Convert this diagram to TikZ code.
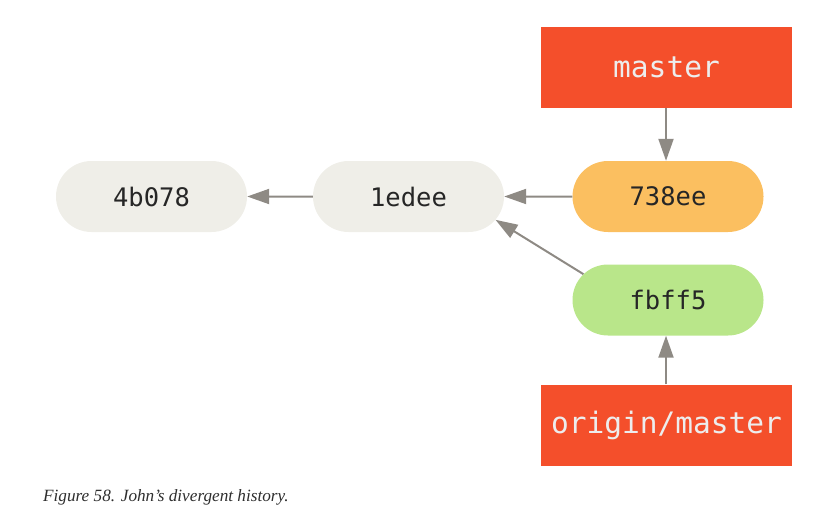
\documentclass[tikz,border=0pt]{standalone}
\usepackage{fontspec}
\setmainfont{Liberation Serif}
\setmonofont{DejaVu Sans Mono}
\usetikzlibrary{arrows.meta,shapes.misc}
\definecolor{commitgray}{HTML}{EFEEE8}
\definecolor{commitorange}{HTML}{FBBF60}
\definecolor{commitgreen}{HTML}{B9E68A}
\definecolor{branchred}{HTML}{F44F2B}
\definecolor{arrowgray}{HTML}{8E8A84}
\tikzset{
    commit/.style={rounded rectangle, fill=commitgray, minimum width=191pt, minimum height=71pt,
        inner sep=0pt, text=black!85, font=\ttfamily\fontsize{25.5}{30}\selectfont},
    branch/.style={rectangle, fill=branchred, minimum width=251pt, minimum height=81pt,
        inner sep=0pt, text=white!93!black, font=\ttfamily\fontsize{29.5}{34}\selectfont},
    parent/.style={draw=arrowgray, line width=2pt, -{Triangle[length=22pt,width=15pt]}}
}
\begin{document}
\begin{tikzpicture}[x=1pt, y=-1pt, line join=round]
    \useasboundingbox (0,0) rectangle (818,514);
    % commits
    \node[commit] (c4b078) at (151.5,196.5) {4b078};
    \node[commit] (c1edee) at (408.5,196.5) {1edee};
    \node[commit, fill=commitorange] (c738ee) at (668,196.5) {738ee};
    \node[commit, fill=commitgreen] (cfbff5) at (668,300) {fbff5};
    % branches
    \node[branch] (master) at (666.5,67) {master};
    \node[branch] (origin) at (666.5,425) {origin/master};
    % history
    \draw[parent] (c1edee) -- (c4b078);
    \draw[parent] (c738ee) -- (c1edee);
    \draw[parent] (cfbff5.163) -- (c1edee.-15);
    \draw[parent] (master.south -| c738ee.north) ++(-2,0) coordinate (m) -- (m |- c738ee.north);
    \draw[parent] (origin.north -| cfbff5.south) ++(-2,0) coordinate (o) -- (o |- cfbff5.south);
    % caption
    \node[anchor=base west, inner sep=0pt, text=black!82, font=\itshape\fontsize{17.2}{20}\selectfont] (caption)
        at (43,501) {Figure 58. John’s divergent history.};
\end{tikzpicture}
\end{document}
